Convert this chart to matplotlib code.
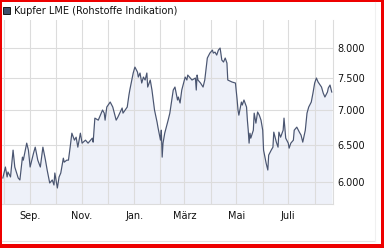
import pandas as pd
import matplotlib
matplotlib.use("Agg")
from matplotlib import pyplot as plt
from matplotlib.patches import Rectangle
from matplotlib.lines import Line2D
from matplotlib.ticker import FixedLocator, FuncFormatter, NullLocator

# Kupfer LME, Schlusskurse
dates = [
    "2009-07-31", "2009-08-03", "2009-08-05", "2009-08-06", "2009-08-09", "2009-08-12",
    "2009-08-14", "2009-08-18", "2009-08-20", "2009-08-23", "2009-08-24", "2009-08-28",
    "2009-08-30", "2009-09-01", "2009-09-05", "2009-09-07", "2009-09-10", "2009-09-13",
    "2009-09-16", "2009-09-19", "2009-09-21", "2009-09-24", "2009-09-27", "2009-09-29",
    "2009-09-30", "2009-10-03", "2009-10-05", "2009-10-07", "2009-10-10", "2009-10-11",
    "2009-10-14", "2009-10-16", "2009-10-18", "2009-10-20", "2009-10-23", "2009-10-25",
    "2009-10-27", "2009-10-30", "2009-11-01", "2009-11-05", "2009-11-08", "2009-11-13",
    "2009-11-14", "2009-11-16", "2009-11-20", "2009-11-25", "2009-11-27", "2009-11-28",
    "2009-11-30", "2009-12-04", "2009-12-07", "2009-12-11", "2009-12-13", "2009-12-18",
    "2009-12-19", "2009-12-24", "2009-12-26", "2009-12-27", "2009-12-31", "2010-01-02",
    "2010-01-05", "2010-01-06", "2010-01-08", "2010-01-10", "2010-01-12", "2010-01-14",
    "2010-01-16", "2010-01-17", "2010-01-20", "2010-01-22", "2010-01-25", "2010-01-28",
    "2010-01-29", "2010-02-01", "2010-02-02", "2010-02-03", "2010-02-04", "2010-02-06",
    "2010-02-10", "2010-02-12", "2010-02-16", "2010-02-18", "2010-02-21", "2010-02-22",
    "2010-02-24", "2010-02-26", "2010-03-02", "2010-03-04", "2010-03-05", "2010-03-10",
    "2010-03-14", "2010-03-15", "2010-03-16", "2010-03-17", "2010-03-20", "2010-03-23",
    "2010-03-25", "2010-03-28", "2010-03-31", "2010-04-03", "2010-04-04", "2010-04-06",
    "2010-04-08", "2010-04-10", "2010-04-12", "2010-04-14", "2010-04-16", "2010-04-18",
    "2010-04-20", "2010-04-21", "2010-04-26", "2010-04-30", "2010-05-02", "2010-05-03",
    "2010-05-04", "2010-05-07", "2010-05-08", "2010-05-10", "2010-05-13", "2010-05-14",
    "2010-05-15", "2010-05-16", "2010-05-17", "2010-05-18", "2010-05-21", "2010-05-22",
    "2010-05-24", "2010-05-26", "2010-05-28", "2010-05-30", "2010-06-01", "2010-06-02",
    "2010-06-05", "2010-06-07", "2010-06-08", "2010-06-11", "2010-06-13", "2010-06-14",
    "2010-06-17", "2010-06-19", "2010-06-20", "2010-06-22", "2010-06-25", "2010-06-26",
    "2010-06-28", "2010-07-01", "2010-07-02", "2010-07-04", "2010-07-07", "2010-07-08",
    "2010-07-11", "2010-07-14", "2010-07-16", "2010-07-18", "2010-07-21", "2010-07-23",
    "2010-07-25", "2010-07-28", "2010-07-30", "2010-08-01", "2010-08-03", "2010-08-05",
    "2010-08-09", "2010-08-11", "2010-08-13", "2010-08-16", "2010-08-17", "2010-08-19",
    "2010-08-21",
]
kurs = [
    6052, 6196, 6065, 6130, 6065, 6425,
    6196, 6052, 6026, 6329, 6288, 6522,
    6425, 6196, 6383, 6466, 6288, 6196,
    6466, 6288, 6156, 5987, 6026, 5961,
    6117, 5923, 6065, 6117, 6315, 6261,
    6288, 6288, 6466, 6663, 6564, 6606,
    6466, 6663, 6522, 6564, 6522, 6592,
    6536, 6882, 6852, 7003, 6956, 6852,
    7048, 7124, 7048, 6852, 6897, 7033,
    6956, 7048, 7232, 7310, 7582, 7680,
    7598, 7517, 7582, 7421, 7517, 7469,
    7582, 7357, 7469, 7310, 7003, 6823,
    6750, 6564, 6706, 6329, 6522, 6663,
    6852, 6956, 7310, 7357, 7155, 7201,
    7109, 7310, 7517, 7469, 7549, 7469,
    7501, 7310, 7549, 7469, 7421, 7357,
    7469, 7830, 7914, 7965, 7914, 7931,
    7880, 7965, 8000, 7796, 7763, 7830,
    7746, 7469, 7437, 7421, 7155, 7003,
    6926, 7124, 7078, 7155, 7048, 6852,
    6706, 6522, 6663, 6592, 6706, 6956,
    6808, 6973, 6926, 6852, 6706, 6425,
    6248, 6156, 6356, 6425, 6466, 6678,
    6536, 6466, 6678, 6606, 6706, 6882,
    6592, 6522, 6452, 6522, 6564, 6706,
    6750, 6678, 6635, 6536, 6706, 6956,
    7048, 7124, 7263, 7421, 7501, 7437,
    7357, 7263, 7201, 7279, 7342, 7389,
    7279,
]
y_ticks = [6000, 6500, 7000, 7500, 8000]
monate = ["Aug.", "Sep.", "Okt.", "Nov.", "Dez.", "Jan.", "Feb.", "März",
          "Apr.", "Mai", "Juni", "Juli", "Aug."]
monat_starts = pd.date_range("2009-08-01", "2010-08-01", freq="MS")

df = pd.DataFrame({"datum": pd.to_datetime(dates), "kurs": kurs})

W, H = 384, 248
fig = plt.figure(figsize=(W / 100, H / 100), dpi=100)
fig.patch.set_facecolor("white")

ax = fig.add_axes([2 / W, 1 - 204 / H, 331 / W, 184 / H])
ax.set_facecolor("white")

linie = "#4a5570"
ax.fill_between(df["datum"], df["kurs"], 1, color="#eef1f9", zorder=1)
ax.plot(df["datum"], df["kurs"], color=linie, lw=0.85, zorder=3)

ax.set_yscale("log")
ax.set_ylim(5723, 8497)
ax.set_xlim(pd.Timestamp("2009-07-30"), pd.Timestamp("2010-08-22 12:00"))

# y-Achse rechts, deutsche Tausenderpunkte
ax.yaxis.tick_right()
ax.yaxis.set_major_locator(FixedLocator(y_ticks))
ax.yaxis.set_minor_locator(NullLocator())
ax.yaxis.set_major_formatter(FuncFormatter(lambda v, p: f"{int(v):,}".replace(",", ".")))

# x-Achse: Gitter jeden Monat, Beschriftung jeden zweiten
ax.set_xticks(monat_starts)
ax.set_xticklabels([m if i % 2 == 1 else "" for i, m in enumerate(monate)])

ax.tick_params(axis="both", length=0, labelsize=7, colors="#111111")
ax.tick_params(axis="y", pad=3)
ax.tick_params(axis="x", pad=5)
ax.grid(True, color="#dcdcdc", lw=0.8, zorder=0)

for s in ["top", "left"]:
    ax.spines[s].set_visible(False)
for s in ["right", "bottom"]:
    ax.spines[s].set_color("#dcdcdc")
    ax.spines[s].set_linewidth(0.8)

# Legende oben links
fig.patches.append(Rectangle((3 / W, 1 - 14 / H), 7 / W, 7 / H, transform=fig.transFigure,
                             facecolor="#3f4f6a", edgecolor="#1a1a1a", lw=0.7))
fig.text(14 / W, 1 - 11.5 / H, "Kupfer LME (Rohstoffe Indikation)", fontsize=7,
         va="center", ha="left", color="#111111")

# feine graue Linien unten/rechts
fig.lines.append(Line2D([2 / W, 375 / W], [1 - 241 / H, 1 - 241 / H], transform=fig.transFigure,
                        color="#e4e4e4", lw=0.8))
fig.lines.append(Line2D([375 / W, 375 / W], [1 - 241 / H, 1 - 2 / H], transform=fig.transFigure,
                        color="#f0f0f0", lw=0.8))

# roter Rahmen
rot = "#ee0000"
for x0, y0, w, h in [(0, 0, 2, H), (0, 0, W, 2), (W - 3, 0, 3, H), (0, H - 4, W, 4)]:
    fig.patches.append(Rectangle((x0 / W, 1 - (y0 + h) / H), w / W, h / H,
                                 transform=fig.transFigure, facecolor=rot, edgecolor="none"))

fig.savefig("out.png", dpi=100)
